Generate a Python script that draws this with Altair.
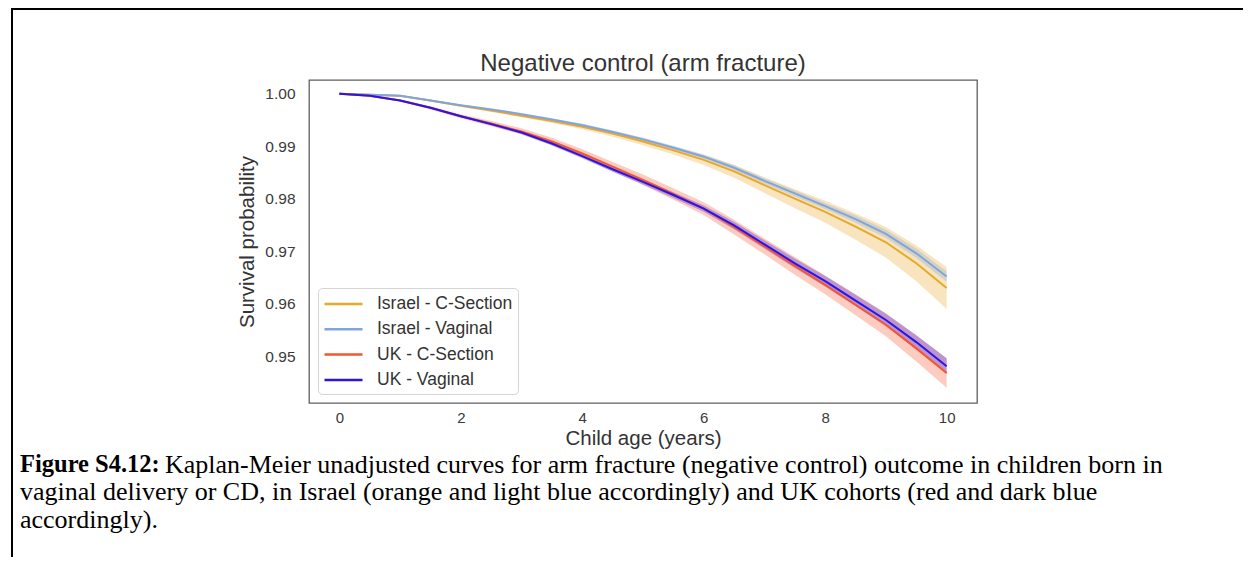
import altair as alt
import pandas as pd

# ---------------- data ----------------
ages = [0, 0.5, 1, 1.5, 2, 2.5, 3, 3.5, 4, 4.5, 5, 5.5, 6, 6.5, 7, 7.5, 8, 8.5, 9, 9.5, 10]

series_names = ["Israel - C-Section", "Israel - Vaginal", "UK - C-Section", "UK - Vaginal"]
series_colors = ["#e8a82a", "#80a4dc", "#f4552e", "#2b14e4"]

israel_cs = [1.0000, 0.9998, 0.9996, 0.9987, 0.9977, 0.9968, 0.9958, 0.9948, 0.9937, 0.9924, 0.9909,
             0.9892, 0.9874, 0.9852, 0.9826, 0.9800, 0.9775, 0.9747, 0.9717, 0.9677, 0.9630]
israel_cs_ci = [0, 0.0001, 0.0001, 0.0002, 0.0002, 0.0003, 0.0003, 0.0004, 0.0005, 0.0006, 0.0007,
                0.0008, 0.0010, 0.0012, 0.0015, 0.0018, 0.0021, 0.0025, 0.0029, 0.0034, 0.0040]

israel_vag = [1.0000, 0.9998, 0.9996, 0.9987, 0.9978, 0.9970, 0.9961, 0.9951, 0.9940, 0.9927, 0.9913,
              0.9897, 0.9880, 0.9859, 0.9834, 0.9810, 0.9786, 0.9761, 0.9733, 0.9696, 0.9652]
israel_vag_ci = [0, 0, 0.0001, 0.0001, 0.0001, 0.0002, 0.0002, 0.0002, 0.0003, 0.0003, 0.0003,
                 0.0004, 0.0004, 0.0005, 0.0005, 0.0006, 0.0006, 0.0007, 0.0008, 0.0009, 0.0010]

uk_cs = [1.0000, 0.9996, 0.9987, 0.9973, 0.9957, 0.9943, 0.9928, 0.9909, 0.9886, 0.9861, 0.9836,
         0.9809, 0.9781, 0.9746, 0.9709, 0.9672, 0.9636, 0.9598, 0.9560, 0.9515, 0.9468]
uk_cs_ci = [0, 0.0001, 0.0002, 0.0003, 0.0004, 0.0005, 0.0006, 0.0007, 0.0008, 0.0009, 0.0010,
            0.0011, 0.0012, 0.0014, 0.0015, 0.0017, 0.0018, 0.0020, 0.0022, 0.0025, 0.0028]

uk_vag = [1.0000, 0.9996, 0.9987, 0.9973, 0.9957, 0.9942, 0.9926, 0.9905, 0.9881, 0.9856, 0.9832,
          0.9807, 0.9781, 0.9749, 0.9713, 0.9677, 0.9643, 0.9606, 0.9569, 0.9527, 0.9481]
uk_vag_ci = [0, 0.00005, 0.0001, 0.00015, 0.0002, 0.00025, 0.0003, 0.00035, 0.0004, 0.00045, 0.0005,
             0.00055, 0.0006, 0.0007, 0.0008, 0.0009, 0.0010, 0.0011, 0.0012, 0.0013, 0.0015]

x_ticks = [0, 2, 4, 6, 8, 10]
y_ticks = [0.95, 0.96, 0.97, 0.98, 0.99, 1.00]

chart_title = "Negative control (arm fracture)"
x_title = "Child age (years)"
y_title = "Survival probability"

caption_bold = "Figure S4.12:"
caption_line1 = "Kaplan-Meier unadjusted curves for arm fracture (negative control) outcome in children born in"
caption_line2 = "vaginal delivery or CD, in Israel (orange and light blue accordingly) and UK cohorts (red and dark blue"
caption_line3 = "accordingly)."

# ---------------- table ----------------
rows = []
for name, surv, ci in zip(series_names,
                          [israel_cs, israel_vag, uk_cs, uk_vag],
                          [israel_cs_ci, israel_vag_ci, uk_cs_ci, uk_vag_ci]):
    for t, s, h in zip(ages, surv, ci):
        rows.append({"age": t, "series": name, "surv": s, "lo": s - h, "hi": min(s + h, 1.0)})
df = pd.DataFrame(rows)

W, H = 668, 323
PAD_L, PAD_T = 301, 72

color_scale = alt.Scale(domain=series_names, range=series_colors)
x_scale = alt.Scale(domain=[-0.5, 10.5], nice=False, zero=False)
y_scale = alt.Scale(domain=[0.9411, 1.0026], nice=False, zero=False)

x_axis = alt.Axis(values=x_ticks, format="d", title=x_title, grid=False, ticks=False, domain=False,
                  labelFontSize=15, labelColor="#3a3a3a", labelFont="Liberation Sans",
                  labelPadding=7, titleFontSize=20.5, titleFont="Liberation Sans",
                  titleFontWeight="normal", titleColor="#333333", titlePadding=3)
y_axis = alt.Axis(values=y_ticks, format=".2f", title=y_title, grid=False, ticks=False, domain=False,
                  labelFontSize=15.5, labelColor="#3a3a3a", labelFont="Liberation Sans",
                  labelPadding=14, titleFontSize=20.5, titleFont="Liberation Sans",
                  titleFontWeight="normal", titleColor="#333333", titlePadding=7)

base = alt.Chart(df)

# confidence bands, one layer per series with its own colour
band_layers = []
for name, col in zip(series_names, series_colors):
    band_layers.append(
        base.transform_filter(alt.datum.series == name).mark_area(
            opacity=0.3, color=col, interpolate="linear"
        ).encode(
            x=alt.X("age:Q", scale=x_scale, axis=x_axis),
            y=alt.Y("lo:Q", scale=y_scale, axis=y_axis),
            y2="hi:Q",
        )
    )

lines = base.mark_line(strokeWidth=2).encode(
    x=alt.X("age:Q", scale=x_scale, axis=x_axis),
    y=alt.Y("surv:Q", scale=y_scale, axis=y_axis),
    color=alt.Color("series:N", scale=color_scale,
                    legend=alt.Legend(orient="bottom-left", offset=9, title=None,
                                      symbolType="M-1,0L3,0", symbolSize=361, symbolStrokeWidth=2.5,
                                      labelFontSize=17.5, labelFont="Liberation Sans",
                                      labelColor="#333333", labelOffset=32, rowPadding=5.3,
                                      padding=5, strokeColor="#d4d4d4", cornerRadius=4,
                                      fillColor="white", labelLimit=400)),
)

one = pd.DataFrame({"k": [0]})

title_mark = alt.Chart(pd.DataFrame({"txt": [chart_title]})).mark_text(
    font="Liberation Sans", fontSize=24, align="center", baseline="alphabetic", color="#333333"
).encode(text="txt:N", x=alt.value(W / 2), y=alt.value(-9.3))

left_border = alt.Chart(one).mark_rule(color="black", strokeWidth=2).encode(
    x=alt.value(-297), y=alt.value(-80), y2=alt.value(700))
top_border = alt.Chart(one).mark_rule(color="black", strokeWidth=2).encode(
    x=alt.value(-298), x2=alt.value(1200), y=alt.value(-71))

cap_font = "Liberation Serif"
cap_x = -289
cap_size = 26
cap_bold = alt.Chart(pd.DataFrame({"txt": [caption_bold]})).mark_text(
    font=cap_font, fontSize=24.5, fontWeight="bold", align="left", baseline="middle", color="black"
).encode(text="txt:N", x=alt.value(cap_x), y=alt.value(385))
cap1 = alt.Chart(pd.DataFrame({"txt": [caption_line1]})).mark_text(
    font=cap_font, fontSize=cap_size, align="left", baseline="middle", color="black"
).encode(text="txt:N", x=alt.value(cap_x + 145), y=alt.value(385))
cap2 = alt.Chart(pd.DataFrame({"txt": [caption_line2]})).mark_text(
    font=cap_font, fontSize=cap_size, align="left", baseline="middle", color="black"
).encode(text="txt:N", x=alt.value(cap_x), y=alt.value(412))
cap3 = alt.Chart(pd.DataFrame({"txt": [caption_line3]})).mark_text(
    font=cap_font, fontSize=cap_size, align="left", baseline="middle", color="black"
).encode(text="txt:N", x=alt.value(cap_x), y=alt.value(440))

chart = alt.layer(*band_layers, lines, title_mark, left_border, top_border,
                  cap_bold, cap1, cap2, cap3).properties(
    width=W, height=H,
    autosize=alt.AutoSizeParams(type="none"),
    padding={"left": PAD_L, "top": PAD_T, "right": 266, "bottom": 154},
    background="white",
).configure_view(stroke="#5f5f5f", strokeWidth=1.3)

chart.save("out.html", embed_options={"renderer": "svg", "actions": False})
